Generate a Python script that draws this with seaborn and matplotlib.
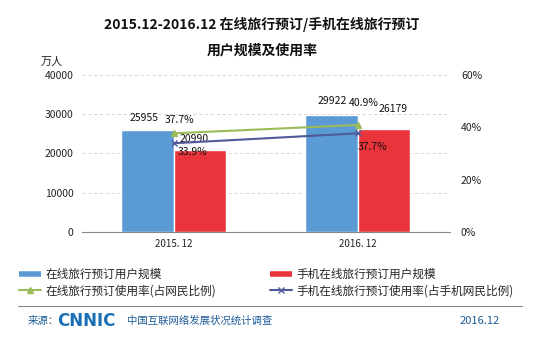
import matplotlib
matplotlib.use("Agg")
import matplotlib.pyplot as plt
import seaborn as sns
import pandas as pd
from matplotlib.lines import Line2D

categories = ["2015. 12", "2016. 12"]
online_users = [25955, 29922]
mobile_users = [20990, 26179]
online_rate = [37.7, 40.9]
mobile_rate = [33.9, 37.7]
series_names = ["在线旅行预订用户规模", "手机在线旅行预订用户规模",
                "在线旅行预订使用率(占网民比例)", "手机在线旅行预订使用率(占手机网民比例)"]
left_ticks = [0, 10000, 20000, 30000, 40000]
right_ticks = [0, 20, 40, 60]

sns.set_theme(style="white")
plt.rcParams['font.family'] = ['Noto Sans CJK SC', 'DejaVu Sans']

blue = "#5B9BD5"
red = "#E8343A"
green = "#9BBB59"
purple = "#4F5A9A"

df = pd.DataFrame({
    "cat": categories * 2,
    "val": online_users + mobile_users,
    "series": [series_names[0]] * 2 + [series_names[1]] * 2,
})

fig = plt.figure(figsize=(5.42, 3.38), dpi=100)
ax = fig.add_axes([0.151, 0.314, 0.679, 0.464])
sns.barplot(data=df, x="cat", y="val", hue="series", palette=[blue, red],
            width=0.57, gap=0, ax=ax, legend=False, saturation=1)
ax.set_xlim(-0.5, 1.5)
ax.set_ylim(0, 40000)
ax.set_yticks(left_ticks)
ax.set_yticklabels([str(t) for t in left_ticks], fontsize=7.5, color="#222222")
ax.tick_params(axis="y", length=0, pad=6)
ax.tick_params(axis="x", labelsize=7, colors="#222222", length=0, pad=5)
ax.set_xlabel("")
ax.set_ylabel("")
for y in left_ticks[1:]:
    ax.axhline(y, color="#cfcfcf", lw=0.6, ls=(0, (4, 3)), zorder=0)
for s in ["left", "right", "top"]:
    ax.spines[s].set_visible(False)
ax.spines["bottom"].set_color("#888888")
ax.spines["bottom"].set_linewidth(0.8)
ax.set_xticks([0.5], minor=True)
ax.tick_params(axis="x", which="minor", length=3, color="#888888")

ax2 = ax.twinx()
ax2.plot(range(len(categories)), online_rate, color=green, lw=1.5, marker="^", ms=5, zorder=5)
ax2.plot(range(len(categories)), mobile_rate, color=purple, lw=1.5, marker="x", ms=4, zorder=5)
ax2.set_ylim(0, 60)
ax2.set_yticks(right_ticks)
ax2.set_yticklabels([f"{t}%" for t in right_ticks], fontsize=7.5, color="#222222")
ax2.tick_params(axis="y", length=0, pad=8)
for s in ["left", "right", "top", "bottom"]:
    ax2.spines[s].set_visible(False)

# value labels
lab = dict(fontsize=7.5, color="#111111", ha="center", va="bottom")
ax.text(-0.16, online_users[0] + 1800, f"{online_users[0]}", **lab)
ax2.text(0.03, online_rate[0] + 3.2, f"{online_rate[0]}%", **lab)
ax.text(0.11, mobile_users[0] + 1500, f"{mobile_users[0]}", **lab)
ax2.text(0.10, mobile_rate[0] - 5.2, f"{mobile_rate[0]}%", **lab)
ax.text(0.86, online_users[1] + 2200, f"{online_users[1]}", **lab)
ax2.text(1.03, online_rate[1] + 6.6, f"{online_rate[1]}%", **lab)
ax.text(1.19, mobile_users[1] + 3900, f"{mobile_users[1]}", **lab)
ax2.text(1.08, mobile_rate[1] - 7.1, f"{mobile_rate[1]}%", **lab)

fig.text(52 / 542, 1 - 62 / 338, "万人", fontsize=8, ha="center", va="center", color="#222222")
fig.text(262 / 542, 1 - 24 / 338, "2015.12-2016.12 在线旅行预订/手机在线旅行预订",
         fontsize=10, fontweight="bold", ha="center", va="center", color="#111111")
fig.text(262 / 542, 1 - 50 / 338, "用户规模及使用率",
         fontsize=10, fontweight="bold", ha="center", va="center", color="#111111")

handles = [
    Line2D([], [], color=blue, lw=4, solid_capstyle="butt"),
    Line2D([], [], color=green, lw=1.5, marker="^", ms=4),
    Line2D([], [], color=red, lw=4, solid_capstyle="butt"),
    Line2D([], [], color=purple, lw=1.5, marker="x", ms=4),
]
labels = [series_names[0], series_names[2], series_names[1], series_names[3]]
leg = fig.legend(handles, labels, ncol=2, loc="upper left",
                 bbox_to_anchor=(14 / 542, 1 - 263 / 338), frameon=False,
                 fontsize=8.4, handlelength=1.9, handletextpad=0.4,
                 columnspacing=4.6, labelspacing=0.3, borderaxespad=0)

fig.add_artist(Line2D([18 / 542, 522 / 542], [1 - 306 / 338] * 2, color="#888888", lw=0.8,
                      transform=fig.transFigure))
fig.text(28 / 542, 1 - 321 / 338, "来源：", fontsize=7.5, ha="left", va="center", color="#1F5C99")
fig.text(57 / 542, 1 - 321 / 338, "CNNIC", fontsize=12, fontweight="bold", ha="left", va="center",
         color="#1A6FB5", family=["DejaVu Sans"])
fig.text(127 / 542, 1 - 321 / 338, "中国互联网络发展状况统计调查", fontsize=7.5, ha="left",
         va="center", color="#1F5C99")
fig.text(480 / 542, 1 - 321 / 338, "2016.12", fontsize=8, ha="center", va="center", color="#1F5C99")

fig.savefig("out.png", dpi=100)
